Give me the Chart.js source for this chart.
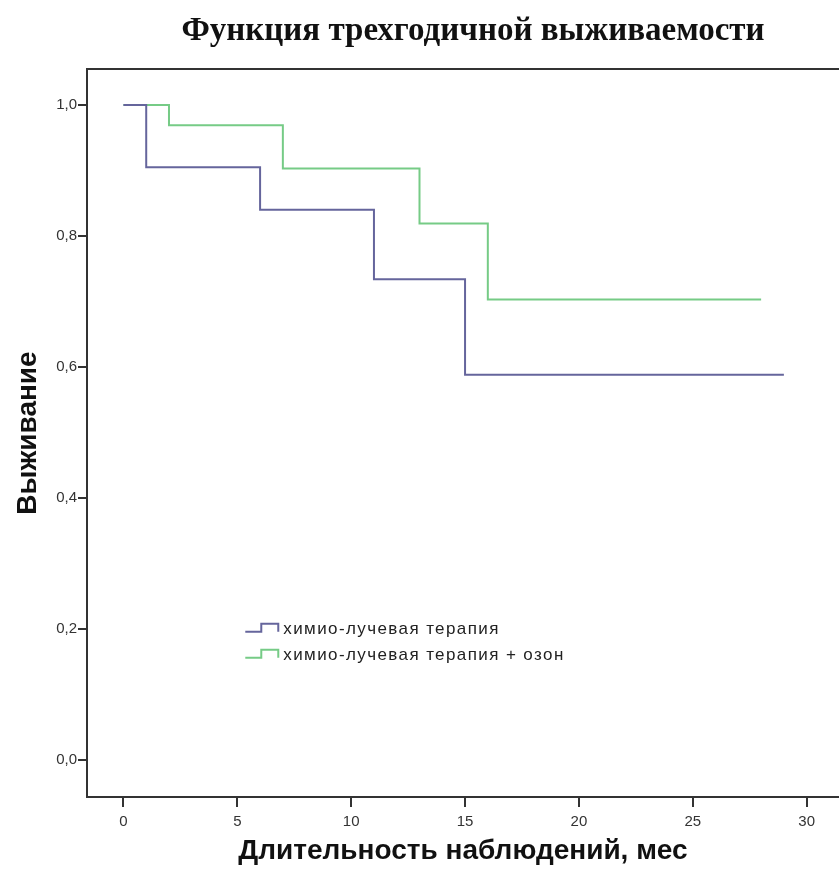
<!DOCTYPE html>
<html>
<head>
<meta charset="utf-8">
<script src="https://cdn.jsdelivr.net/npm/chart.js@4.4.1/dist/chart.umd.min.js"></script>
<style>
  html, body { margin: 0; padding: 0; background: #fff; }
  #wrap { width: 839px; height: 886px; }
</style>
</head>
<body>
<div id="wrap"><canvas id="km"></canvas></div>
<script>
const chartTitle = "Функция трехгодичной выживаемости"
const xTitle = "Длительность наблюдений, мес"
const yTitle = "Выживание"

const seriesNames = ["химио-лучевая терапия", "химио-лучевая терапия + озон"]

// время (мес) и выживаемость для каждой группы
const chemoTimes = [0, 1, 6, 11, 15, 29]
const chemoSurv = [1.0, 0.905, 0.840, 0.734, 0.588, 0.588]
const ozoneTimes = [0, 2, 7, 13, 16, 28]
const ozoneSurv = [1.0, 0.969, 0.903, 0.819, 0.703, 0.703]

const xTicks = [0, 5, 10, 15, 20, 25, 30]
const yTicks = [0.0, 0.2, 0.4, 0.6, 0.8, 1.0]

const blue = "#65659c"
const green = "#76cb86"
const axisColor = "#333"

function toPoints(times, surv) {
    return times.map((t, i) => ({ x: t, y: surv[i] }))
}

const titlePlugin = {
    id: "topTitle",
    afterDraw(chart) {
        const ctx = chart.ctx
        ctx.save()
        ctx.fillStyle = "#111"
        ctx.font = "bold 33px 'Liberation Serif', 'DejaVu Serif', serif"
        ctx.textAlign = "center"
        ctx.textBaseline = "middle"
        ctx.fillText(chartTitle, 473, 31)
        // верхняя рамка
        const a = chart.chartArea
        ctx.strokeStyle = axisColor
        ctx.lineWidth = 2
        ctx.beginPath()
        ctx.moveTo(a.left, a.top)
        ctx.lineTo(a.right, a.top)
        ctx.stroke()
        ctx.restore()
    }
}

const legendPlugin = {
    id: "stepLegend",
    afterDatasetsDraw(chart) {
        const ctx = chart.ctx
        const xs = chart.scales.x
        const ys = chart.scales.y
        const left = xs.getPixelForValue(5.35)
        const top = ys.getPixelForValue(0.2)
        ctx.save()
        chart.data.datasets.forEach((ds, i) => {
            const y = top + i * 26
            ctx.strokeStyle = ds.borderColor
            ctx.lineWidth = 2
            ctx.beginPath()
            ctx.moveTo(left, y + 3)
            ctx.lineTo(left + 16, y + 3)
            ctx.lineTo(left + 16, y - 5)
            ctx.lineTo(left + 33, y - 5)
            ctx.lineTo(left + 33, y + 3)
            ctx.stroke()
            ctx.fillStyle = "#222"
            ctx.font = "17px 'Liberation Sans', Arial, sans-serif"
            ctx.letterSpacing = "1.4px"
            ctx.textAlign = "left"
            ctx.textBaseline = "middle"
            ctx.fillText(ds.label, left + 38, y + 1)
        })
        ctx.restore()
    }
}

new Chart(document.getElementById("km"), {
    type: "line",
    data: {
        datasets: [
            {
                label: seriesNames[0],
                data: toPoints(chemoTimes, chemoSurv),
                borderColor: blue,
                borderWidth: 2,
                stepped: "before",
                pointRadius: 0,
                fill: false
            },
            {
                label: seriesNames[1],
                data: toPoints(ozoneTimes, ozoneSurv),
                borderColor: green,
                borderWidth: 2,
                stepped: "before",
                pointRadius: 0,
                fill: false
            }
        ]
    },
    options: {
        responsive: true,
        maintainAspectRatio: false,
        animation: false,
        layout: { padding: { top: 69, right: 0, bottom: 0, left: 0 } },
        plugins: {
            legend: { display: false },
            title: { display: false },
            tooltip: { enabled: false }
        },
        scales: {
            x: {
                type: "linear",
                min: -1.6,
                max: 31.42,
                afterBuildTicks: (s) => { s.ticks = xTicks.map(v => ({ value: v })) },
                afterFit: (s) => { s.height = 89 },
                border: { display: true, color: axisColor, width: 2 },
                grid: { drawOnChartArea: false, drawTicks: true, tickLength: 10, color: axisColor, lineWidth: 2 },
                ticks: {
                    color: "#333",
                    font: { family: "'Liberation Sans', Arial, sans-serif", size: 15 },
                    padding: 6,
                    maxRotation: 0,
                    autoSkip: false
                },
                title: {
                    display: true,
                    text: xTitle,
                    color: "#111",
                    font: { family: "'Liberation Sans', Arial, sans-serif", size: 28, weight: "bold" },
                    padding: { top: 0, bottom: 18 }
                }
            },
            y: {
                type: "linear",
                min: -0.057,
                max: 1.055,
                afterBuildTicks: (s) => { s.ticks = yTicks.map(v => ({ value: v })) },
                afterFit: (s) => { s.width = 87 },
                border: { display: true, color: axisColor, width: 2 },
                grid: { drawOnChartArea: false, drawTicks: true, tickLength: 9, color: axisColor, lineWidth: 2 },
                ticks: {
                    color: "#333",
                    font: { family: "'Liberation Sans', Arial, sans-serif", size: 15 },
                    padding: 1,
                    callback: (v) => v.toFixed(1).replace(".", ",")
                },
                title: {
                    display: true,
                    text: yTitle,
                    color: "#111",
                    font: { family: "'Liberation Sans', Arial, sans-serif", size: 28, weight: "bold" },
                    padding: { top: 11, bottom: 0 }
                }
            }
        }
    },
    plugins: [titlePlugin, legendPlugin]
})
</script>
</body>
</html>
